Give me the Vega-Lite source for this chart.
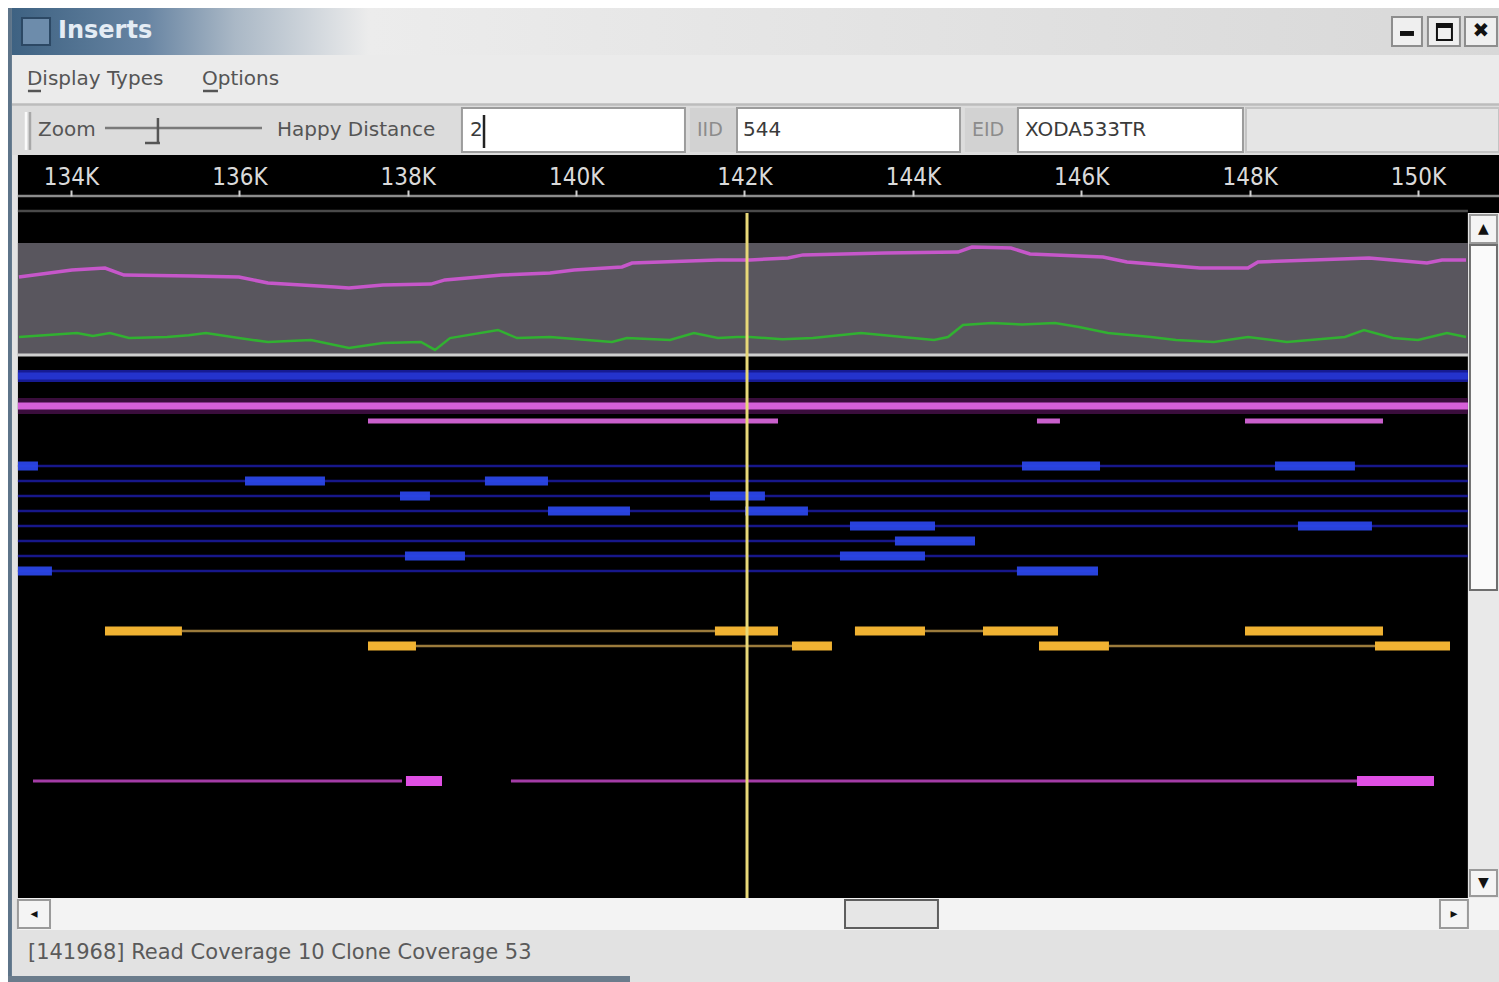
{
  "$schema": "https://vega.github.io/schema/vega-lite/v6.json",
  "width": 1499,
  "height": 982,
  "autosize": {"type": "none"},
  "padding": 0,
  "background": "#ffffff",
  "config": {"view": {"stroke": null}},
  "datasets": {
    "ui": [
      {"part": "frame", "start": 133252, "end": 150962, "top": 0.467, "bottom": 65.4},
      {"part": "titlebar", "start": 133299, "end": 150962, "top": 0.467, "bottom": 3.6},
      {"part": "border", "start": 133252, "end": 133299, "top": 0.467, "bottom": 65.4},
      {"part": "icon", "start": 133418, "end": 133751, "top": 1.133, "bottom": 2.933},
      {"part": "btn", "start": 149691, "end": 150047, "top": 1.067, "bottom": 3.0},
      {"part": "btn", "start": 150118, "end": 150498, "top": 1.067, "bottom": 3.0},
      {"part": "btn", "start": 150558, "end": 150938, "top": 1.067, "bottom": 3.0},
      {"part": "glyph", "start": 149786, "end": 149952, "top": 2.0, "bottom": 2.33},
      {"part": "glyph", "start": 150225, "end": 150403, "top": 1.533, "bottom": 1.8},
      {"part": "glyphbox", "start": 150225, "end": 150403, "top": 1.533, "bottom": 2.6},
      {"part": "menubar", "start": 133299, "end": 150962, "top": 3.6, "bottom": 6.933},
      {"part": "toolbar", "start": 133299, "end": 150962, "top": 6.933, "bottom": 10.267},
      {"part": "lblbox", "start": 141352, "end": 141911, "top": 7.133, "bottom": 10.067},
      {"part": "lblbox", "start": 144619, "end": 145248, "top": 7.133, "bottom": 10.067},
      {"part": "field", "start": 138644, "end": 141293, "top": 7.133, "bottom": 10.067},
      {"part": "field", "start": 141911, "end": 144560, "top": 7.133, "bottom": 10.067},
      {"part": "field", "start": 145248, "end": 147921, "top": 7.133, "bottom": 10.067},
      {"part": "rightbox", "start": 147957, "end": 150962, "top": 7.133, "bottom": 10.067},
      {"part": "black", "start": 133370, "end": 150962, "top": 10.267, "bottom": 14.133},
      {"part": "black", "start": 133370, "end": 150593, "top": 14.133, "bottom": 59.8},
      {"part": "vscroll", "start": 150593, "end": 150962, "top": 14.133, "bottom": 59.8},
      {"part": "vthumb", "start": 150617, "end": 150938, "top": 16.267, "bottom": 39.267},
      {"part": "sbtn", "start": 150617, "end": 150938, "top": 14.267, "bottom": 16.133},
      {"part": "sbtn", "start": 150617, "end": 150938, "top": 57.933, "bottom": 59.667},
      {"part": "hscroll", "start": 133370, "end": 150962, "top": 59.8, "bottom": 61.933},
      {"part": "sbtn", "start": 133370, "end": 133751, "top": 59.933, "bottom": 61.8},
      {"part": "sbtn", "start": 150261, "end": 150593, "top": 59.933, "bottom": 61.8},
      {"part": "hthumb", "start": 143194, "end": 144298, "top": 59.933, "bottom": 61.8},
      {"part": "status", "start": 133299, "end": 150962, "top": 61.933, "bottom": 65.4},
      {"part": "bborder", "start": 133252, "end": 140640, "top": 65.0, "bottom": 65.4}
    ],
    "uirules": [
      {"part": "slider", "start": 134404, "end": 136269, "top": 8.467, "bottom": 8.467},
      {"part": "knob", "start": 135033, "end": 135033, "top": 7.8, "bottom": 9.4},
      {"part": "knob", "start": 134879, "end": 135057, "top": 9.467, "bottom": 9.467},
      {"part": "griplight", "start": 133466, "end": 133466, "top": 7.4, "bottom": 9.93},
      {"part": "gripdark", "start": 133513, "end": 133513, "top": 7.4, "bottom": 9.93},
      {"part": "sep", "start": 133299, "end": 150962, "top": 6.9, "bottom": 6.9},
      {"part": "axisdomain", "start": 133370, "end": 150962, "top": 13.0, "bottom": 13.0},
      {"part": "axisline", "start": 133370, "end": 150593, "top": 14.0, "bottom": 14.0},
      {"part": "underline", "start": 133489, "end": 133644, "top": 6.0, "bottom": 6.0},
      {"part": "underline", "start": 135568, "end": 135746, "top": 6.0, "bottom": 6.0},
      {"part": "caret", "start": 138906, "end": 138906, "top": 7.6, "bottom": 9.8}
    ],
    "uitext": [
      {"part": "title", "label": "Inserts", "start": 133846, "lane": 2.0},
      {"part": "menu", "label": "Display Types", "start": 133477, "lane": 5.2},
      {"part": "menu", "label": "Options", "start": 135556, "lane": 5.2},
      {"part": "tool", "label": "Zoom", "start": 133608, "lane": 8.6},
      {"part": "tool", "label": "Happy Distance", "start": 136447, "lane": 8.6},
      {"part": "value", "label": "2", "start": 138739, "lane": 8.6},
      {"part": "value", "label": "544", "start": 141982, "lane": 8.6},
      {"part": "value", "label": "XODA533TR", "start": 145332, "lane": 8.6},
      {"part": "dim", "label": "IID", "start": 141436, "lane": 8.6},
      {"part": "dim", "label": "EID", "start": 144702, "lane": 8.6},
      {"part": "status", "label": "[141968] Read Coverage 10 Clone Coverage 53", "start": 133489, "lane": 63.47},
      {"part": "arrow", "label": "▲", "start": 150778, "lane": 15.2},
      {"part": "arrow", "label": "▼", "start": 150778, "lane": 58.8},
      {"part": "arrow", "label": "◂", "start": 133560, "lane": 60.87},
      {"part": "arrow", "label": "▸", "start": 150427, "lane": 60.87},
      {"part": "close", "label": "✖", "start": 150748, "lane": 2.0}
    ],
    "tracks": [
      {"kind": "scaffold", "lane": 25, "start": 133370, "end": 150593},
      {"kind": "contig", "lane": 27, "start": 133370, "end": 150593},
      {"kind": "contig2", "lane": 28, "start": 137528, "end": 142398},
      {"kind": "contig2", "lane": 28, "start": 145474, "end": 145747},
      {"kind": "contig2", "lane": 28, "start": 147945, "end": 149584},
      {"kind": "blink", "lane": 31, "start": 133370, "end": 150593},
      {"kind": "blink", "lane": 32, "start": 133370, "end": 150593},
      {"kind": "blink", "lane": 33, "start": 133370, "end": 150593},
      {"kind": "blink", "lane": 34, "start": 133370, "end": 150593},
      {"kind": "blink", "lane": 35, "start": 133370, "end": 150593},
      {"kind": "blink", "lane": 36, "start": 133370, "end": 144738},
      {"kind": "blink", "lane": 37, "start": 133370, "end": 150593},
      {"kind": "blink", "lane": 38, "start": 133370, "end": 146199},
      {"kind": "bread", "lane": 31, "start": 133370, "end": 133608},
      {"kind": "bread", "lane": 31, "start": 145296, "end": 146223},
      {"kind": "bread", "lane": 31, "start": 148301, "end": 149251},
      {"kind": "bread", "lane": 32, "start": 136067, "end": 137017},
      {"kind": "bread", "lane": 32, "start": 138917, "end": 139666},
      {"kind": "bread", "lane": 33, "start": 137908, "end": 138264},
      {"kind": "bread", "lane": 33, "start": 141590, "end": 142243},
      {"kind": "bread", "lane": 34, "start": 139666, "end": 140640},
      {"kind": "bread", "lane": 34, "start": 142006, "end": 142754},
      {"kind": "bread", "lane": 35, "start": 143253, "end": 144263},
      {"kind": "bread", "lane": 35, "start": 148574, "end": 149453},
      {"kind": "bread", "lane": 36, "start": 143787, "end": 144738},
      {"kind": "bread", "lane": 37, "start": 137967, "end": 138680},
      {"kind": "bread", "lane": 37, "start": 143134, "end": 144144},
      {"kind": "bread", "lane": 38, "start": 133370, "end": 133774},
      {"kind": "bread", "lane": 38, "start": 145236, "end": 146199},
      {"kind": "olink", "lane": 42, "start": 135318, "end": 141649},
      {"kind": "olink", "lane": 42, "start": 144144, "end": 144833},
      {"kind": "olink", "lane": 43, "start": 138098, "end": 142564},
      {"kind": "olink", "lane": 43, "start": 146329, "end": 149489},
      {"kind": "oread", "lane": 42, "start": 134404, "end": 135318},
      {"kind": "oread", "lane": 42, "start": 141649, "end": 142398},
      {"kind": "oread", "lane": 42, "start": 143312, "end": 144144},
      {"kind": "oread", "lane": 42, "start": 144833, "end": 145724},
      {"kind": "oread", "lane": 42, "start": 147945, "end": 149584},
      {"kind": "oread", "lane": 43, "start": 137528, "end": 138098},
      {"kind": "oread", "lane": 43, "start": 142564, "end": 143039},
      {"kind": "oread", "lane": 43, "start": 145498, "end": 146329},
      {"kind": "oread", "lane": 43, "start": 149489, "end": 150380},
      {"kind": "mlink", "lane": 52, "start": 133549, "end": 137932},
      {"kind": "mlink", "lane": 52, "start": 139226, "end": 149275},
      {"kind": "mread", "lane": 52, "start": 137979, "end": 138407},
      {"kind": "mread", "lane": 52, "start": 149275, "end": 150190}
    ],
    "band": [{"start": 133370, "end": 150593, "low": 0, "high": 62.2}],
    "coverage": [
      {"series": "clone", "start": 133382, "cov": 43.3},
      {"series": "clone", "start": 134012, "cov": 47.2},
      {"series": "clone", "start": 134404, "cov": 48.3},
      {"series": "clone", "start": 134630, "cov": 44.4},
      {"series": "clone", "start": 135425, "cov": 43.9},
      {"series": "clone", "start": 135995, "cov": 43.3},
      {"series": "clone", "start": 136340, "cov": 40.0},
      {"series": "clone", "start": 137136, "cov": 37.8},
      {"series": "clone", "start": 137302, "cov": 37.2},
      {"series": "clone", "start": 137706, "cov": 38.9},
      {"series": "clone", "start": 138276, "cov": 39.4},
      {"series": "clone", "start": 138442, "cov": 41.7},
      {"series": "clone", "start": 139119, "cov": 44.4},
      {"series": "clone", "start": 139690, "cov": 45.6},
      {"series": "clone", "start": 139975, "cov": 47.2},
      {"series": "clone", "start": 140545, "cov": 48.9},
      {"series": "clone", "start": 140664, "cov": 51.1},
      {"series": "clone", "start": 141685, "cov": 52.8},
      {"series": "clone", "start": 142065, "cov": 52.8},
      {"series": "clone", "start": 142517, "cov": 53.9},
      {"series": "clone", "start": 142695, "cov": 55.6},
      {"series": "clone", "start": 143669, "cov": 56.7},
      {"series": "clone", "start": 144536, "cov": 57.2},
      {"series": "clone", "start": 144702, "cov": 60.0},
      {"series": "clone", "start": 145165, "cov": 59.4},
      {"series": "clone", "start": 145391, "cov": 56.1},
      {"series": "clone", "start": 146258, "cov": 54.4},
      {"series": "clone", "start": 146543, "cov": 51.7},
      {"series": "clone", "start": 147125, "cov": 49.4},
      {"series": "clone", "start": 147410, "cov": 48.3},
      {"series": "clone", "start": 147980, "cov": 48.3},
      {"series": "clone", "start": 148099, "cov": 51.7},
      {"series": "clone", "start": 149418, "cov": 53.9},
      {"series": "clone", "start": 150107, "cov": 51.1},
      {"series": "clone", "start": 150285, "cov": 52.8},
      {"series": "clone", "start": 150570, "cov": 52.8},
      {"series": "read", "start": 133382, "cov": 10.0},
      {"series": "read", "start": 133727, "cov": 11.1},
      {"series": "read", "start": 134071, "cov": 12.2},
      {"series": "read", "start": 134260, "cov": 10.5},
      {"series": "read", "start": 134463, "cov": 12.2},
      {"series": "read", "start": 134689, "cov": 9.4},
      {"series": "read", "start": 135140, "cov": 10.0},
      {"series": "read", "start": 135400, "cov": 11.0},
      {"series": "read", "start": 135603, "cov": 12.2},
      {"series": "read", "start": 135995, "cov": 9.4},
      {"series": "read", "start": 136340, "cov": 7.2},
      {"series": "read", "start": 136851, "cov": 8.3},
      {"series": "read", "start": 137302, "cov": 3.9},
      {"series": "read", "start": 137706, "cov": 6.7},
      {"series": "read", "start": 138157, "cov": 7.2},
      {"series": "read", "start": 138324, "cov": 2.8},
      {"series": "read", "start": 138502, "cov": 9.4},
      {"series": "read", "start": 139072, "cov": 13.9},
      {"series": "read", "start": 139298, "cov": 9.4},
      {"series": "read", "start": 139690, "cov": 10.0},
      {"series": "read", "start": 140426, "cov": 7.2},
      {"series": "read", "start": 140604, "cov": 9.4},
      {"series": "read", "start": 141115, "cov": 8.3},
      {"series": "read", "start": 141400, "cov": 12.2},
      {"series": "read", "start": 141685, "cov": 9.4},
      {"series": "read", "start": 141911, "cov": 10.0},
      {"series": "read", "start": 142065, "cov": 10.0},
      {"series": "read", "start": 142450, "cov": 8.8},
      {"series": "read", "start": 142813, "cov": 9.4},
      {"series": "read", "start": 143384, "cov": 12.2},
      {"series": "read", "start": 144251, "cov": 8.3},
      {"series": "read", "start": 144417, "cov": 10.0},
      {"series": "read", "start": 144595, "cov": 16.7},
      {"series": "read", "start": 144940, "cov": 17.8},
      {"series": "read", "start": 145300, "cov": 16.9},
      {"series": "read", "start": 145688, "cov": 17.8},
      {"series": "read", "start": 145973, "cov": 15.6},
      {"series": "read", "start": 146317, "cov": 12.2},
      {"series": "read", "start": 146828, "cov": 10.0},
      {"series": "read", "start": 147125, "cov": 8.3},
      {"series": "read", "start": 147576, "cov": 7.2},
      {"series": "read", "start": 147980, "cov": 10.0},
      {"series": "read", "start": 148443, "cov": 7.2},
      {"series": "read", "start": 149132, "cov": 10.0},
      {"series": "read", "start": 149358, "cov": 13.9},
      {"series": "read", "start": 149703, "cov": 9.4},
      {"series": "read", "start": 150000, "cov": 8.3},
      {"series": "read", "start": 150344, "cov": 12.2},
      {"series": "read", "start": 150570, "cov": 10.0}
    ],
    "cursor": [{"start": 142030, "top": 14.133, "bottom": 59.8}]
  },
  "encoding": {
    "x": {
      "field": "start", "type": "quantitative",
      "scale": {"domain": [133157, 150962], "nice": false, "zero": false},
      "axis": {
        "orient": "top", "offset": -196, "title": null, "grid": false, "zindex": 1,
        "values": [134000, 136000, 138000, 140000, 142000, 144000, 146000, 148000, 150000],
        "labelExpr": "format(datum.value / 1000, 'd') + 'K'",
        "domain": false,
        "tickColor": "#d0d0d0", "tickWidth": 2, "tickSize": 6,
        "labelColor": "#dadada", "labelFont": "DejaVu Sans Condensed", "labelFontSize": 24,
        "labelPadding": 1, "labelFlush": false, "labelOverlap": false
      }
    }
  },
  "layer": [
    {
      "encoding": {
        "y": {
          "field": "lane", "type": "quantitative",
          "scale": {"domain": [-0.0667, 65.4], "reverse": true, "nice": false, "zero": false},
          "axis": null
        }
      },
      "layer": [
        {
          "data": {"name": "ui"},
          "transform": [{"filter": "datum.part == 'frame'"}],
          "mark": {"type": "rect", "fill": "#e3e3e3"},
          "encoding": {"x2": {"field": "end"}, "y": {"field": "top", "type": "quantitative"}, "y2": {"field": "bottom"}}
        },
        {
          "data": {"name": "ui"},
          "transform": [{"filter": "datum.part == 'titlebar'"}],
          "mark": {"type": "rect", "fill": {"gradient": "linear", "x1": 0, "x2": 1, "y1": 0, "y2": 0, "stops": [
            {"offset": 0, "color": "#3e6282"},
            {"offset": 0.09, "color": "#6784a2"},
            {"offset": 0.15, "color": "#aab8c6"},
            {"offset": 0.24, "color": "#ececec"},
            {"offset": 1, "color": "#d8d8d8"}]}},
          "encoding": {"x2": {"field": "end"}, "y": {"field": "top", "type": "quantitative"}, "y2": {"field": "bottom"}}
        },
        {
          "data": {"name": "ui"},
          "transform": [{"filter": "datum.part != 'frame' && datum.part != 'titlebar' && datum.part != 'glyphbox'"}],
          "mark": {"type": "rect"},
          "encoding": {
            "x2": {"field": "end"},
            "y": {"field": "top", "type": "quantitative"},
            "y2": {"field": "bottom"},
            "fill": {
              "field": "part", "type": "nominal", "legend": null,
              "scale": {
                "domain": ["border", "icon", "btn", "glyph", "menubar", "toolbar", "lblbox", "field", "rightbox", "black", "vscroll", "vthumb", "sbtn", "hscroll", "hthumb", "status", "bborder"],
                "range": ["#5d7489", "#6d8cab", "#efefef", "#111111", "#ebebeb", "#dcdcdc", "#d2d2d2", "#ffffff", "#e5e5e5", "#000000", "#e9e9e9", "#fafafa", "#f4f4f4", "#f3f3f3", "#e6e6e6", "#e2e2e2", "#6b7c8c"]
              }
            }
          }
        },
        {
          "data": {"name": "ui"},
          "transform": [{"filter": {"field": "part", "oneOf": ["icon", "btn", "field", "rightbox", "vthumb", "sbtn", "hthumb", "glyphbox"]}}],
          "mark": {"type": "rect", "filled": false, "strokeWidth": 2},
          "encoding": {
            "x2": {"field": "end"},
            "y": {"field": "top", "type": "quantitative"},
            "y2": {"field": "bottom"},
            "stroke": {
              "field": "part", "type": "nominal", "legend": null,
              "scale": {
                "domain": ["icon", "btn", "field", "rightbox", "vthumb", "sbtn", "hthumb", "glyphbox"],
                "range": ["#2c4864", "#8d8d8d", "#9c9c9c", "#c4c4c4", "#6e6e6e", "#9a9a9a", "#5e5e5e", "#111111"]
              }
            }
          }
        },
        {
          "data": {"name": "uirules"},
          "mark": {"type": "rule", "strokeWidth": 2.5},
          "encoding": {
            "x2": {"field": "end"},
            "y": {"field": "top", "type": "quantitative"},
            "y2": {"field": "bottom"},
            "color": {
              "field": "part", "type": "nominal", "legend": null,
              "scale": {
                "domain": ["slider", "knob", "griplight", "gripdark", "sep", "axisdomain", "axisline", "underline", "caret"],
                "range": ["#7a7a7a", "#555555", "#fafafa", "#a8a8a8", "#bcbcbc", "#8c8c8c", "#4a4a4a", "#555555", "#222222"]
              }
            }
          }
        },
        {
          "data": {"name": "uitext"},
          "transform": [{"filter": "datum.part == 'title'"}],
          "mark": {"type": "text", "align": "left", "baseline": "middle", "font": "DejaVu Sans", "fontWeight": "bold", "fontSize": 24, "color": "#e4ecf4"},
          "encoding": {"text": {"field": "label"}}
        },
        {
          "data": {"name": "uitext"},
          "transform": [{"filter": "datum.part == 'menu' || datum.part == 'tool'"}],
          "mark": {"type": "text", "align": "left", "baseline": "middle", "font": "DejaVu Sans", "fontSize": 20, "color": "#555555"},
          "encoding": {"text": {"field": "label"}}
        },
        {
          "data": {"name": "uitext"},
          "transform": [{"filter": "datum.part == 'value'"}],
          "mark": {"type": "text", "align": "left", "baseline": "middle", "font": "DejaVu Sans", "fontSize": 20, "color": "#3a3a3a"},
          "encoding": {"text": {"field": "label"}}
        },
        {
          "data": {"name": "uitext"},
          "transform": [{"filter": "datum.part == 'dim'"}],
          "mark": {"type": "text", "align": "left", "baseline": "middle", "font": "DejaVu Sans", "fontSize": 19, "color": "#8c8c8c"},
          "encoding": {"text": {"field": "label"}}
        },
        {
          "data": {"name": "uitext"},
          "transform": [{"filter": "datum.part == 'status'"}],
          "mark": {"type": "text", "align": "left", "baseline": "middle", "font": "DejaVu Sans", "fontSize": 21, "color": "#5a5a5a"},
          "encoding": {"text": {"field": "label"}}
        },
        {
          "data": {"name": "uitext"},
          "transform": [{"filter": "datum.part == 'arrow'"}],
          "mark": {"type": "text", "align": "center", "baseline": "middle", "font": "DejaVu Sans", "fontSize": 14, "color": "#111111"},
          "encoding": {"text": {"field": "label"}}
        },
        {
          "data": {"name": "uitext"},
          "transform": [{"filter": "datum.part == 'close'"}],
          "mark": {"type": "text", "align": "center", "baseline": "middle", "font": "DejaVu Sans", "fontSize": 20, "color": "#111111"},
          "encoding": {"text": {"field": "label"}}
        },
        {
          "data": {"name": "tracks"},
          "transform": [{"filter": "datum.kind == 'scaffold'"}],
          "mark": {"type": "rule", "strokeWidth": 12, "color": "#161a92", "strokeCap": "butt"},
          "encoding": {"x2": {"field": "end"}}
        },
        {
          "data": {"name": "tracks"},
          "transform": [{"filter": "datum.kind == 'scaffold'"}],
          "mark": {"type": "rule", "strokeWidth": 7, "color": "#2433cc", "strokeCap": "butt"},
          "encoding": {"x2": {"field": "end"}}
        },
        {
          "data": {"name": "tracks"},
          "transform": [{"filter": "datum.kind == 'contig'"}],
          "mark": {"type": "rule", "strokeWidth": 16, "color": "#3a0d3c", "strokeCap": "butt"},
          "encoding": {"x2": {"field": "end"}}
        },
        {
          "data": {"name": "tracks"},
          "transform": [{"filter": "datum.kind == 'contig'"}],
          "mark": {"type": "rule", "strokeWidth": 7, "color": "#d660d9", "strokeCap": "butt"},
          "encoding": {"x2": {"field": "end"}}
        },
        {
          "data": {"name": "tracks"},
          "transform": [{"filter": "datum.kind == 'contig2'"}],
          "mark": {"type": "rule", "strokeWidth": 5, "color": "#c95fcc", "strokeCap": "butt"},
          "encoding": {"x2": {"field": "end"}}
        },
        {
          "data": {"name": "tracks"},
          "transform": [{"filter": "datum.kind == 'blink'"}],
          "mark": {"type": "rule", "strokeWidth": 2.5, "color": "#17178a", "strokeCap": "butt"},
          "encoding": {"x2": {"field": "end"}}
        },
        {
          "data": {"name": "tracks"},
          "transform": [{"filter": "datum.kind == 'bread'"}],
          "mark": {"type": "rule", "strokeWidth": 9, "color": "#2a46e6", "strokeCap": "butt", "opacity": 0.95},
          "encoding": {"x2": {"field": "end"}}
        },
        {
          "data": {"name": "tracks"},
          "transform": [{"filter": "datum.kind == 'olink'"}],
          "mark": {"type": "rule", "strokeWidth": 2.5, "color": "#9b7b3c", "strokeCap": "butt"},
          "encoding": {"x2": {"field": "end"}}
        },
        {
          "data": {"name": "tracks"},
          "transform": [{"filter": "datum.kind == 'oread'"}],
          "mark": {"type": "rule", "strokeWidth": 9, "color": "#f0b232", "strokeCap": "butt"},
          "encoding": {"x2": {"field": "end"}}
        },
        {
          "data": {"name": "tracks"},
          "transform": [{"filter": "datum.kind == 'mlink'"}],
          "mark": {"type": "rule", "strokeWidth": 3, "color": "#a33ca6", "strokeCap": "butt"},
          "encoding": {"x2": {"field": "end"}}
        },
        {
          "data": {"name": "tracks"},
          "transform": [{"filter": "datum.kind == 'mread'"}],
          "mark": {"type": "rule", "strokeWidth": 10, "color": "#e050e4", "strokeCap": "butt"},
          "encoding": {"x2": {"field": "end"}}
        }
      ]
    },
    {
      "encoding": {
        "y": {
          "field": "cov", "type": "quantitative",
          "scale": {"domain": [-348.3, 197.2], "nice": false, "zero": false},
          "axis": null
        }
      },
      "layer": [
        {
          "data": {"name": "band"},
          "mark": {"type": "rect", "fill": "#59565e"},
          "encoding": {"x2": {"field": "end"}, "y": {"field": "low", "type": "quantitative"}, "y2": {"field": "high"}}
        },
        {
          "data": {"name": "band"},
          "mark": {"type": "rule", "color": "#cfcfcf", "strokeWidth": 3},
          "encoding": {"x2": {"field": "end"}, "y": {"field": "low", "type": "quantitative"}}
        },
        {
          "data": {"name": "coverage"},
          "transform": [{"filter": "datum.series == 'clone'"}],
          "mark": {"type": "line", "color": "#c657ca", "strokeWidth": 3.5},
          "encoding": {}
        },
        {
          "data": {"name": "coverage"},
          "transform": [{"filter": "datum.series == 'read'"}],
          "mark": {"type": "line", "color": "#31b131", "strokeWidth": 2.5},
          "encoding": {}
        }
      ]
    },
    {
      "data": {"name": "cursor"},
      "mark": {"type": "rule", "color": "#e8d878", "strokeWidth": 3},
      "encoding": {
        "y": {"field": "top", "type": "quantitative", "scale": {"domain": [-0.0667, 65.4], "reverse": true, "nice": false, "zero": false}, "axis": null},
        "y2": {"field": "bottom"}
      }
    }
  ],
  "resolve": {"scale": {"y": "independent"}}
}
